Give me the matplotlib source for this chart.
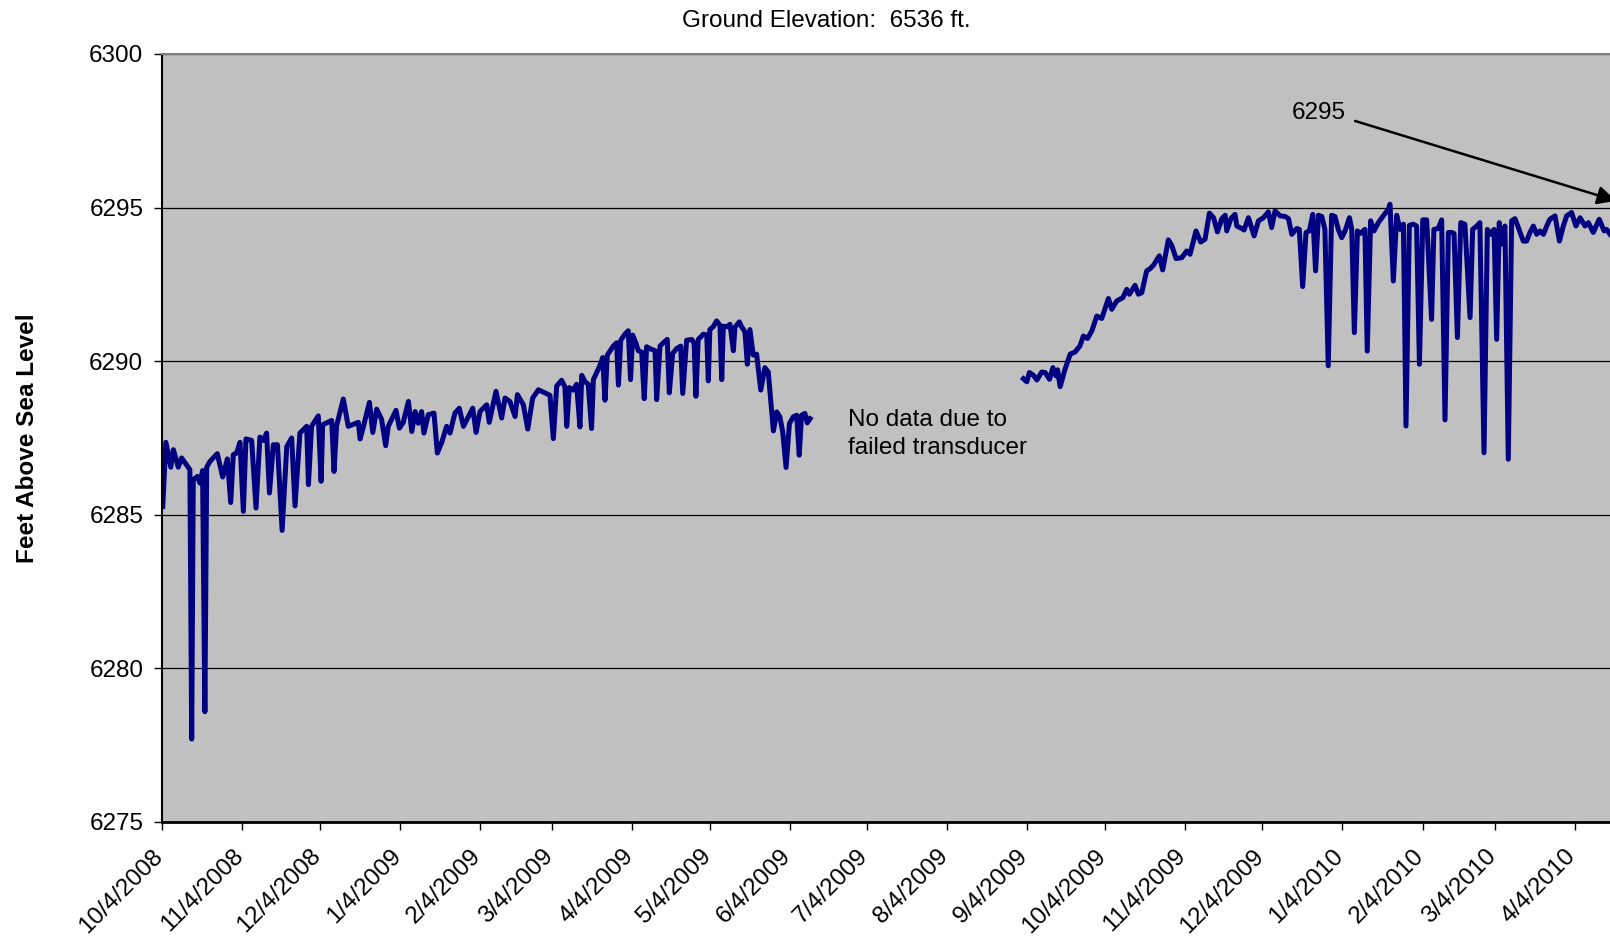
import matplotlib
matplotlib.use("Agg")
import matplotlib.pyplot as plt
import matplotlib.transforms as mtransforms
import pandas as pd

plt.rcParams['font.family'] = ['Liberation Sans', 'DejaVu Sans']

first_reading = pd.Timestamp("2008-10-04")

# days since first reading, water level in ft above sea level (before transducer failure)
days_a = [0.3, 1.5, 3.4, 4.4, 6.3, 7.6, 10.8, 11.5, 12.1, 13.7,
          14.7, 15.7, 16.6, 17.3, 18.6, 21.4, 23.5, 25.3, 26.6, 27.6,
          28.9, 30.2, 31.5, 32.5, 34.7, 36.4, 37.9, 39.2, 40.5, 41.6,
          43.1, 44.7, 46.5, 48.3, 50.2, 51.5, 53.4, 56.0, 56.7, 57.9,
          60.5, 61.6, 62.2, 65.7, 66.6, 67.6, 70.2, 72.1, 76.0, 76.7,
          78.0, 80.3, 81.6, 83.1, 85.0, 86.6, 87.6, 90.6, 91.9, 93.4,
          95.4, 96.7, 98.0, 99.2, 100.5, 101.4, 103.1, 105.3, 106.6, 108.3,
          110.2, 111.5, 113.4, 115.1, 116.7, 120.3, 121.6, 123.1, 125.7, 126.7,
          129.3, 131.5, 132.8, 134.7, 136.7, 137.6, 139.9, 141.6, 143.5, 145.7,
          150.2, 151.5, 152.8, 154.7, 156.0, 156.7, 157.7, 159.2, 160.5, 161.8,
          162.5, 163.8, 165.0, 166.3, 167.0, 169.6, 170.6, 171.5, 172.4, 174.7,
          176.0, 176.7, 177.6, 179.2, 180.5, 181.4, 182.2, 183.5, 184.4, 185.7,
          186.7, 187.6, 188.9, 190.9, 191.5, 192.8, 194.1, 195.6, 196.4, 197.7,
          199.2, 200.8, 201.6, 203.1, 205.1, 206.0, 206.7, 207.6, 209.6, 210.9,
          211.5, 212.1, 213.4, 214.7, 216.0, 216.7, 217.3, 218.6, 219.9, 221.2,
          221.8, 223.5, 224.4, 225.7, 226.6, 227.6, 228.9, 230.2, 231.8, 233.4,
          234.7, 236.7, 238.0, 239.2, 240.3, 241.6, 242.9, 244.4, 245.7, 246.7,
          247.6, 248.9, 249.8, 250.9]
level_a = [6285.27, 6287.36, 6286.55, 6287.12, 6286.55, 6286.85, 6286.47, 6277.70, 6286.14, 6286.25,
           6286.03, 6286.44, 6278.59, 6286.55, 6286.74, 6286.99, 6286.23, 6286.82, 6285.40, 6286.96,
           6287.01, 6287.36, 6285.11, 6287.47, 6287.42, 6285.22, 6287.53, 6287.42, 6287.66, 6285.71,
           6287.28, 6287.28, 6284.49, 6287.22, 6287.50, 6285.29, 6287.66, 6287.88, 6285.98, 6287.88,
           6288.22, 6286.09, 6287.93, 6288.07, 6286.41, 6287.90, 6288.77, 6287.88, 6288.01, 6287.47,
           6287.88, 6288.66, 6287.68, 6288.44, 6288.11, 6287.25, 6287.88, 6288.40, 6287.82, 6288.01,
           6288.69, 6287.71, 6288.36, 6287.98, 6288.36, 6287.66, 6288.26, 6288.31, 6287.01, 6287.36,
           6287.88, 6287.66, 6288.31, 6288.47, 6287.88, 6288.47, 6287.68, 6288.36, 6288.58, 6288.01,
           6289.02, 6288.15, 6288.80, 6288.69, 6288.20, 6288.91, 6288.58, 6287.79, 6288.80, 6289.07,
           6288.89, 6287.48, 6289.19, 6289.38, 6289.16, 6287.88, 6289.14, 6289.06, 6289.25, 6287.86,
           6289.54, 6289.33, 6289.25, 6287.81, 6289.40, 6289.87, 6290.12, 6288.73, 6290.20, 6290.49,
           6290.60, 6289.22, 6290.68, 6290.88, 6290.99, 6289.40, 6290.85, 6290.58, 6290.34, 6290.30,
           6288.78, 6290.47, 6290.41, 6290.34, 6288.75, 6290.49, 6290.60, 6290.71, 6288.97, 6290.25,
           6290.41, 6290.49, 6288.95, 6290.68, 6290.71, 6290.58, 6288.86, 6290.71, 6290.88, 6290.85,
           6289.36, 6291.03, 6291.12, 6291.31, 6291.17, 6289.40, 6291.14, 6291.12, 6291.20, 6290.34,
           6291.10, 6291.28, 6291.12, 6290.95, 6289.90, 6291.03, 6290.20, 6290.23, 6289.06, 6289.79,
           6289.65, 6287.73, 6288.35, 6288.19, 6287.70, 6286.54, 6287.97, 6288.19, 6288.24, 6286.94,
           6288.24, 6288.30, 6287.99, 6288.13]

# after the transducer was replaced
days_b = [333.5, 334.8, 335.8, 337.4, 338.7, 340.6, 341.9, 343.6, 344.9, 346.1,
          346.7, 347.7, 349.6, 351.6, 353.5, 355.4, 356.7, 358.3, 360.0, 361.9,
          363.8, 366.4, 367.7, 369.6, 372.0, 373.5, 374.5, 376.7, 378.0, 379.3,
          381.2, 382.5, 383.8, 386.1, 387.4, 389.6, 390.9, 392.6, 394.8, 396.7,
          398.0, 400.3, 402.1, 403.8, 405.5, 407.1, 408.6, 410.3, 411.6, 412.2,
          413.8, 415.4, 416.1, 418.0, 418.9, 420.6, 422.8, 424.5, 426.4, 428.3,
          429.6, 430.9, 432.9, 434.8, 436.1, 437.4, 439.3,
          440.3, 441.6, 442.9, 444.2, 445.5, 446.6, 447.7, 449.0, 450.2, 451.5,
          452.8, 454.1, 455.4, 456.7, 458.0, 459.7, 460.6, 461.6, 462.8, 464.0,
          465.7, 466.6, 467.9, 469.2, 470.9, 472.8, 474.8, 475.4, 476.7, 478.0,
          479.3, 480.6, 481.6, 482.9, 484.4, 485.7, 486.8, 488.1, 489.6, 491.5,
          492.4, 494.1, 495.4, 496.7, 498.0, 499.3, 500.2, 501.5, 502.8, 504.4,
          506.4, 507.4, 509.0, 510.2, 511.8, 513.1, 514.4, 515.7, 516.7, 517.7,
          518.6, 519.9, 521.2, 522.5, 523.8, 525.1, 527.0, 528.3, 529.6, 530.9,
          532.2, 533.5, 534.8, 536.1, 537.3, 539.3, 541.0, 542.5, 543.8, 545.7,
          547.4, 549.0, 550.9, 552.2, 554.1, 556.4, 558.3, 559.3, 560.6]
level_b = [6289.43, 6289.33, 6289.63, 6289.54, 6289.39, 6289.65, 6289.63, 6289.41, 6289.79, 6289.52,
           6289.72, 6289.17, 6289.74, 6290.23, 6290.30, 6290.50, 6290.82, 6290.74, 6290.99, 6291.47,
           6291.39, 6292.04, 6291.69, 6291.96, 6292.07, 6292.34, 6292.18, 6292.47, 6292.18, 6292.23,
           6292.94, 6293.01, 6293.12, 6293.43, 6292.97, 6293.95, 6293.77, 6293.34, 6293.37, 6293.59,
           6293.48, 6294.24, 6293.88, 6293.97, 6294.82, 6294.67, 6294.21, 6294.64, 6294.75, 6294.24,
           6294.64, 6294.78, 6294.40, 6294.32, 6294.27, 6294.67, 6294.08, 6294.57, 6294.67, 6294.86,
           6294.35, 6294.89, 6294.73, 6294.71, 6294.64, 6294.13, 6294.32,
           6294.29, 6292.43, 6294.19, 6294.24, 6294.78, 6292.94, 6294.75, 6294.71, 6294.29, 6289.85,
           6294.75, 6294.71, 6294.29, 6294.02, 6294.24, 6294.67, 6294.29, 6290.93, 6294.24, 6294.16,
           6294.29, 6290.33, 6294.57, 6294.24, 6294.51, 6294.73, 6294.95, 6295.11, 6292.61, 6294.75,
           6294.29, 6294.46, 6287.89, 6294.42, 6294.46, 6294.40, 6289.90, 6294.60, 6294.60, 6291.36,
           6294.29, 6294.32, 6294.60, 6288.09, 6294.19, 6294.19, 6294.16, 6290.77, 6294.51, 6294.46,
           6291.42, 6294.29, 6294.40, 6294.51, 6287.02, 6294.29, 6294.13, 6294.29, 6290.71, 6294.51,
           6293.81, 6294.40, 6286.81, 6294.57, 6294.64, 6294.35, 6293.91, 6293.91, 6294.19, 6294.40,
           6294.13, 6294.24, 6294.13, 6294.40, 6294.62, 6294.73, 6293.91, 6294.40, 6294.73, 6294.84,
           6294.40, 6294.67, 6294.40, 6294.51, 6294.19, 6294.62, 6294.24, 6294.29, 6294.13]

tick_labels = ["10/4/2008", "11/4/2008", "12/4/2008", "1/4/2009", "2/4/2009", "3/4/2009",
               "4/4/2009", "5/4/2009", "6/4/2009", "7/4/2009", "8/4/2009", "9/4/2009",
               "10/4/2009", "11/4/2009", "12/4/2009", "1/4/2010", "2/4/2010", "3/4/2010",
               "4/4/2010"]

title = "Ground Elevation:  6536 ft."
ylabel = "Feet Above Sea Level"


def to_dates(days):
    return first_reading + pd.to_timedelta(days, unit="D")


fig = plt.figure(figsize=(16.1, 9.41), dpi=100)
ax = fig.add_axes([162 / 1610, 119 / 941, 1454 / 1610, 768 / 941])
ax.set_facecolor("#C0C0C0")

ax.plot(to_dates(days_a), level_a, color="#000080", lw=3.6, solid_joinstyle="round")
ax.plot(to_dates(days_b), level_b, color="#000080", lw=3.6, solid_joinstyle="round")

ax.set_xlim(first_reading, to_dates(562.9))
ax.set_ylim(6275, 6300)
ax.set_yticks([6275, 6280, 6285, 6290, 6295, 6300])
ax.yaxis.grid(True, color="black", lw=0.9)
ax.set_axisbelow(True)

tick_dates = pd.to_datetime(tick_labels, format="%m/%d/%Y")
ax.set_xticks(tick_dates)
ax.set_xticklabels(tick_labels, rotation=45, ha="right", va="top", rotation_mode="anchor",
                   fontsize=17.5)

ax.tick_params(axis="both", direction="out", length=5.5, width=1, colors="black")
ax.tick_params(axis="y", pad=8, labelsize=17.5)
ax.tick_params(axis="x", pad=6)

# push rotated date labels down-left like the original
shift = mtransforms.ScaledTranslation(-10 / 100, -7 / 100, fig.dpi_scale_trans)
for lab in ax.get_xticklabels():
    lab.set_transform(lab.get_transform() + shift)

ax.spines["top"].set_color("#808080")
ax.spines["top"].set_linewidth(1.5)
ax.spines["left"].set_linewidth(1.5)
ax.spines["bottom"].set_linewidth(2)
ax.spines["right"].set_visible(False)

ax.set_ylabel(ylabel, fontsize=17.5, fontweight="bold")
ax.yaxis.set_label_coords(-(162 - 39) / 1454, 0.5)

fig.text(826 / 1610, 1 - 21 / 941, title, fontsize=17.5, ha="center", va="center")

ax.text(to_dates(265.6), 6288.45, "No data due to\nfailed transducer", fontsize=17.5,
        ha="left", va="top", linespacing=1.36)

ax.text(to_dates(447.9), 6298.08, "6295", fontsize=17.5, ha="center", va="center")
ax.annotate("", xy=(to_dates(562.9), 6295.22), xytext=(to_dates(461.9), 6297.82),
            arrowprops=dict(arrowstyle="-|>", color="black", lw=1.8, mutation_scale=28,
                            shrinkA=0, shrinkB=0),
            annotation_clip=False)

fig.savefig("out.png", dpi=100)
